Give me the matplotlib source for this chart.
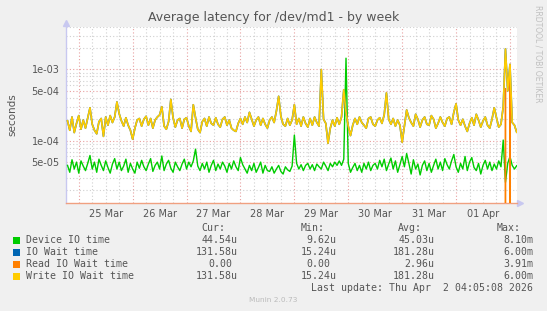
import matplotlib
matplotlib.use("Agg")
import matplotlib.pyplot as plt
from matplotlib.patches import Rectangle
import numpy as np

W, H = 547, 311

# hourly samples (microseconds), first at Mar 24 19:00, last at Apr 2 03:00
start_hour = -5

device_io_us = [
    45, 36, 54, 40, 50, 35, 52, 44, 38, 48, 62, 40, 50, 36, 55, 45, 38, 52, 42, 35,
    47, 56, 40, 50, 38, 44, 55, 36, 48, 40, 35, 50, 41, 53, 43, 38, 47, 56, 37, 45,
    50, 40, 61, 38, 47, 53, 41, 36, 50, 43, 38, 47, 55, 40, 50, 43, 52, 76, 44, 38,
    48, 40, 50, 36, 45, 53, 38, 47, 40, 50, 44, 36, 48, 40, 52, 43, 38, 58, 46, 40,
    35, 45, 38, 48, 36, 42, 50, 35, 45, 38, 37, 43, 35, 40, 45, 37, 34, 43, 39, 37,
    44, 120, 48, 40, 46, 38, 45, 48, 40, 46, 38, 47, 43, 40, 50, 44, 38, 48, 43, 50,
    45, 52, 45, 55, 1440, 48, 36, 42, 48, 38, 45, 36, 48, 40, 50, 38, 45, 48, 40, 53,
    43, 55, 38, 47, 57, 40, 52, 36, 46, 60, 43, 66, 48, 34, 54, 40, 47, 33, 45, 52,
    38, 48, 36, 45, 55, 40, 50, 38, 56, 46, 40, 52, 64, 43, 36, 48, 40, 60, 38, 50,
    58, 42, 38, 48, 34, 45, 53, 40, 50, 38, 47, 40, 52, 43, 102, 26, 48, 60, 45, 40,
    44.5,
]

write_wait_us = [
    190, 140, 215, 130, 175, 225, 145, 195, 150, 210, 290, 170, 140, 125, 185, 205, 115, 215, 165, 225,
    180, 215, 350, 240, 190, 160, 210, 165, 140, 105, 150, 195, 205, 160, 200, 220, 165, 205, 150, 195,
    215, 230, 300, 160, 145, 185, 380, 210, 155, 195, 205, 150, 200, 210, 160, 135, 320, 210, 145, 130,
    185, 205, 160, 215, 175, 165, 210, 170, 155, 200, 215, 165, 195, 150, 140, 135, 175, 205, 170, 215,
    180, 250, 200, 160, 195, 215, 165, 205, 170, 150, 195, 215, 180, 260, 420, 220, 170, 160, 205, 165,
    195, 320, 170, 205, 160, 215, 175, 155, 205, 165, 215, 180, 160, 1000, 200, 175, 92, 150, 195, 160,
    210, 170, 215, 520, 250, 160, 118, 165, 205, 170, 215, 180, 165, 150, 205, 215, 170, 160, 195, 210,
    175, 230, 470, 200, 170, 205, 160, 195, 165, 95, 160, 270, 210, 180, 160, 235, 200, 155, 195, 215,
    170, 165, 225, 200, 150, 175, 215, 180, 160, 205, 215, 170, 250, 330, 195, 165, 200, 160, 135, 175,
    210, 165, 235, 195, 155, 190, 215, 165, 150, 200, 290, 210, 155, 170, 300, 1940, 500, 1180, 180, 165,
    131.58,
]

read_spike_hours = [195, 197]
read_spike_us = [540, 1160]

day_labels = ["25 Mar", "26 Mar", "27 Mar", "28 Mar", "29 Mar", "30 Mar", "31 Mar", "01 Apr"]

legend_names = ["Device IO time", "IO Wait time", "Read IO Wait time", "Write IO Wait time"]
legend_colors = ["#00CC00", "#0066B3", "#FF8000", "#FFCC00"]
cur_vals = ["44.54u", "131.58u", "0.00", "131.58u"]
min_vals = ["9.62u", "15.24u", "0.00", "15.24u"]
avg_vals = ["45.03u", "181.28u", "2.96u", "181.28u"]
max_vals = ["8.10m", "6.00m", "3.91m", "6.00m"]

n = len(write_wait_us)
t = (start_hour + np.arange(n)) / 24.0  # days since Mar 25 00:00
device = np.array(device_io_us) * 1e-6
write = np.array(write_wait_us) * 1e-6
read = np.zeros(n)
read[read_spike_hours] = np.array(read_spike_us) * 1e-6
iowait = write.copy()


def fx(x):
    return x / W


def fy(y):
    return 1 - y / H


fig = plt.figure(figsize=(W / 100, H / 100), dpi=100, facecolor="#F0F0F0")
ax = fig.add_axes([fx(66.3), fy(203.3), fx(516.7 - 66.3), (203.3 - 27) / H])
ax.set_facecolor("white")
ax.set_yscale("log")
ax.set_xlim(-0.231, 8.125)
ax.set_ylim(1.32e-5, 3.95e-3)

# grid like rrdtool
for h in range(-6, 8 * 24 + 6, 6):
    d = h / 24
    if h % 24 == 0:
        ax.axvline(d, color="#E8A0A0", lw=0.8, ls=(0, (1, 2)), zorder=1)
    else:
        ax.axvline(d, color="#D0D0D0", lw=0.8, ls=(0, (1, 2)), zorder=1)
for dec in [1e-5, 1e-4, 1e-3]:
    for m in range(1, 10):
        v = m * dec
        if m in (1, 5):
            ax.axhline(v, color="#E8A0A0", lw=0.8, ls=(0, (1, 2)), zorder=1)
        else:
            ax.axhline(v, color="#D0D0D0", lw=0.8, ls=(0, (1, 2)), zorder=1)

ax.plot(t, device, color=legend_colors[0], lw=1.0, zorder=3)
ax.plot(t, iowait, color=legend_colors[1], lw=1.2, zorder=3)
ax.plot(t, read, color=legend_colors[2], lw=1.0, zorder=4)
ax.plot(t, write, color=legend_colors[3], lw=1.2, zorder=5)

ax.set_xticks(np.arange(len(day_labels)) + 0.5)
ax.set_xticklabels(day_labels)
ax.set_yticks([5e-5, 1e-4, 5e-4, 1e-3])
ax.set_yticklabels(["5e-05", "1e-04", "5e-04", "1e-03"])
ax.yaxis.set_minor_locator(matplotlib.ticker.NullLocator())
ax.tick_params(axis="both", length=0, labelsize=7, colors="#555555", pad=4)
ax.tick_params(axis="y", pad=5)

for s in ["top", "right"]:
    ax.spines[s].set_visible(False)
ax.spines["left"].set_color("#C8C8F0")
ax.spines["bottom"].set_color("#F0A080")
ax.spines["left"].set_linewidth(1)
ax.spines["bottom"].set_linewidth(1)
ax.plot([0], [1.02], marker="^", color="#C8C8F0", ms=4, transform=ax.transAxes, clip_on=False)
ax.plot([1.008], [0], marker=">", color="#C8C8F0", ms=4, transform=ax.transAxes, clip_on=False)

fig.text(fx(273.6), fy(17.5), "Average latency for /dev/md1 - by week", ha="center", va="center",
         fontsize=9, color="#555555")
fig.text(fx(12), fy(115), "seconds", rotation=90, ha="center", va="center", fontsize=7.5, color="#555555")
fig.text(fx(538), fy(5), "RRDTOOL / TOBI OETIKER", rotation=270, ha="center", va="top",
         fontsize=5.5, color="#C0C0C0")

mono = "DejaVu Sans Mono"
cw = 5.93
col_right = [238, 336.7, 434.4, 533]
head_right = [225.7, 324.5, 422, 520.6]
for xr, lab in zip(head_right, ["Cur:", "Min:", "Avg:", "Max:"]):
    fig.text(fx(xr), fy(228), lab, ha="right", va="center", family=mono, fontsize=7.1, color="#555555")

rows_y = [240, 252, 264, 276]
for k in range(4):
    y = rows_y[k]
    fig.patches.append(Rectangle((fx(13), fy(y + 3.5)), 7 / W, 7 / H, transform=fig.transFigure,
                                 facecolor=legend_colors[k], edgecolor="none"))
    fig.text(fx(26.2), fy(y), legend_names[k], ha="left", va="center", family=mono, fontsize=7.1,
             color="#555555")
    for xr, val in zip(col_right, [cur_vals[k], min_vals[k], avg_vals[k], max_vals[k]]):
        shift = cw if val[-1].isdigit() else 0
        fig.text(fx(xr - shift), fy(y), val, ha="right", va="center", family=mono, fontsize=7.1,
                 color="#555555")

fig.text(fx(533), fy(288), "Last update: Thu Apr  2 04:05:08 2026", ha="right", va="center",
         family=mono, fontsize=7.1, color="#555555")
fig.text(fx(273), fy(300), "Munin 2.0.73", ha="center", va="center", fontsize=5.3, color="#BBBBBB")

fig.savefig("out.png", dpi=100, facecolor=fig.get_facecolor())
